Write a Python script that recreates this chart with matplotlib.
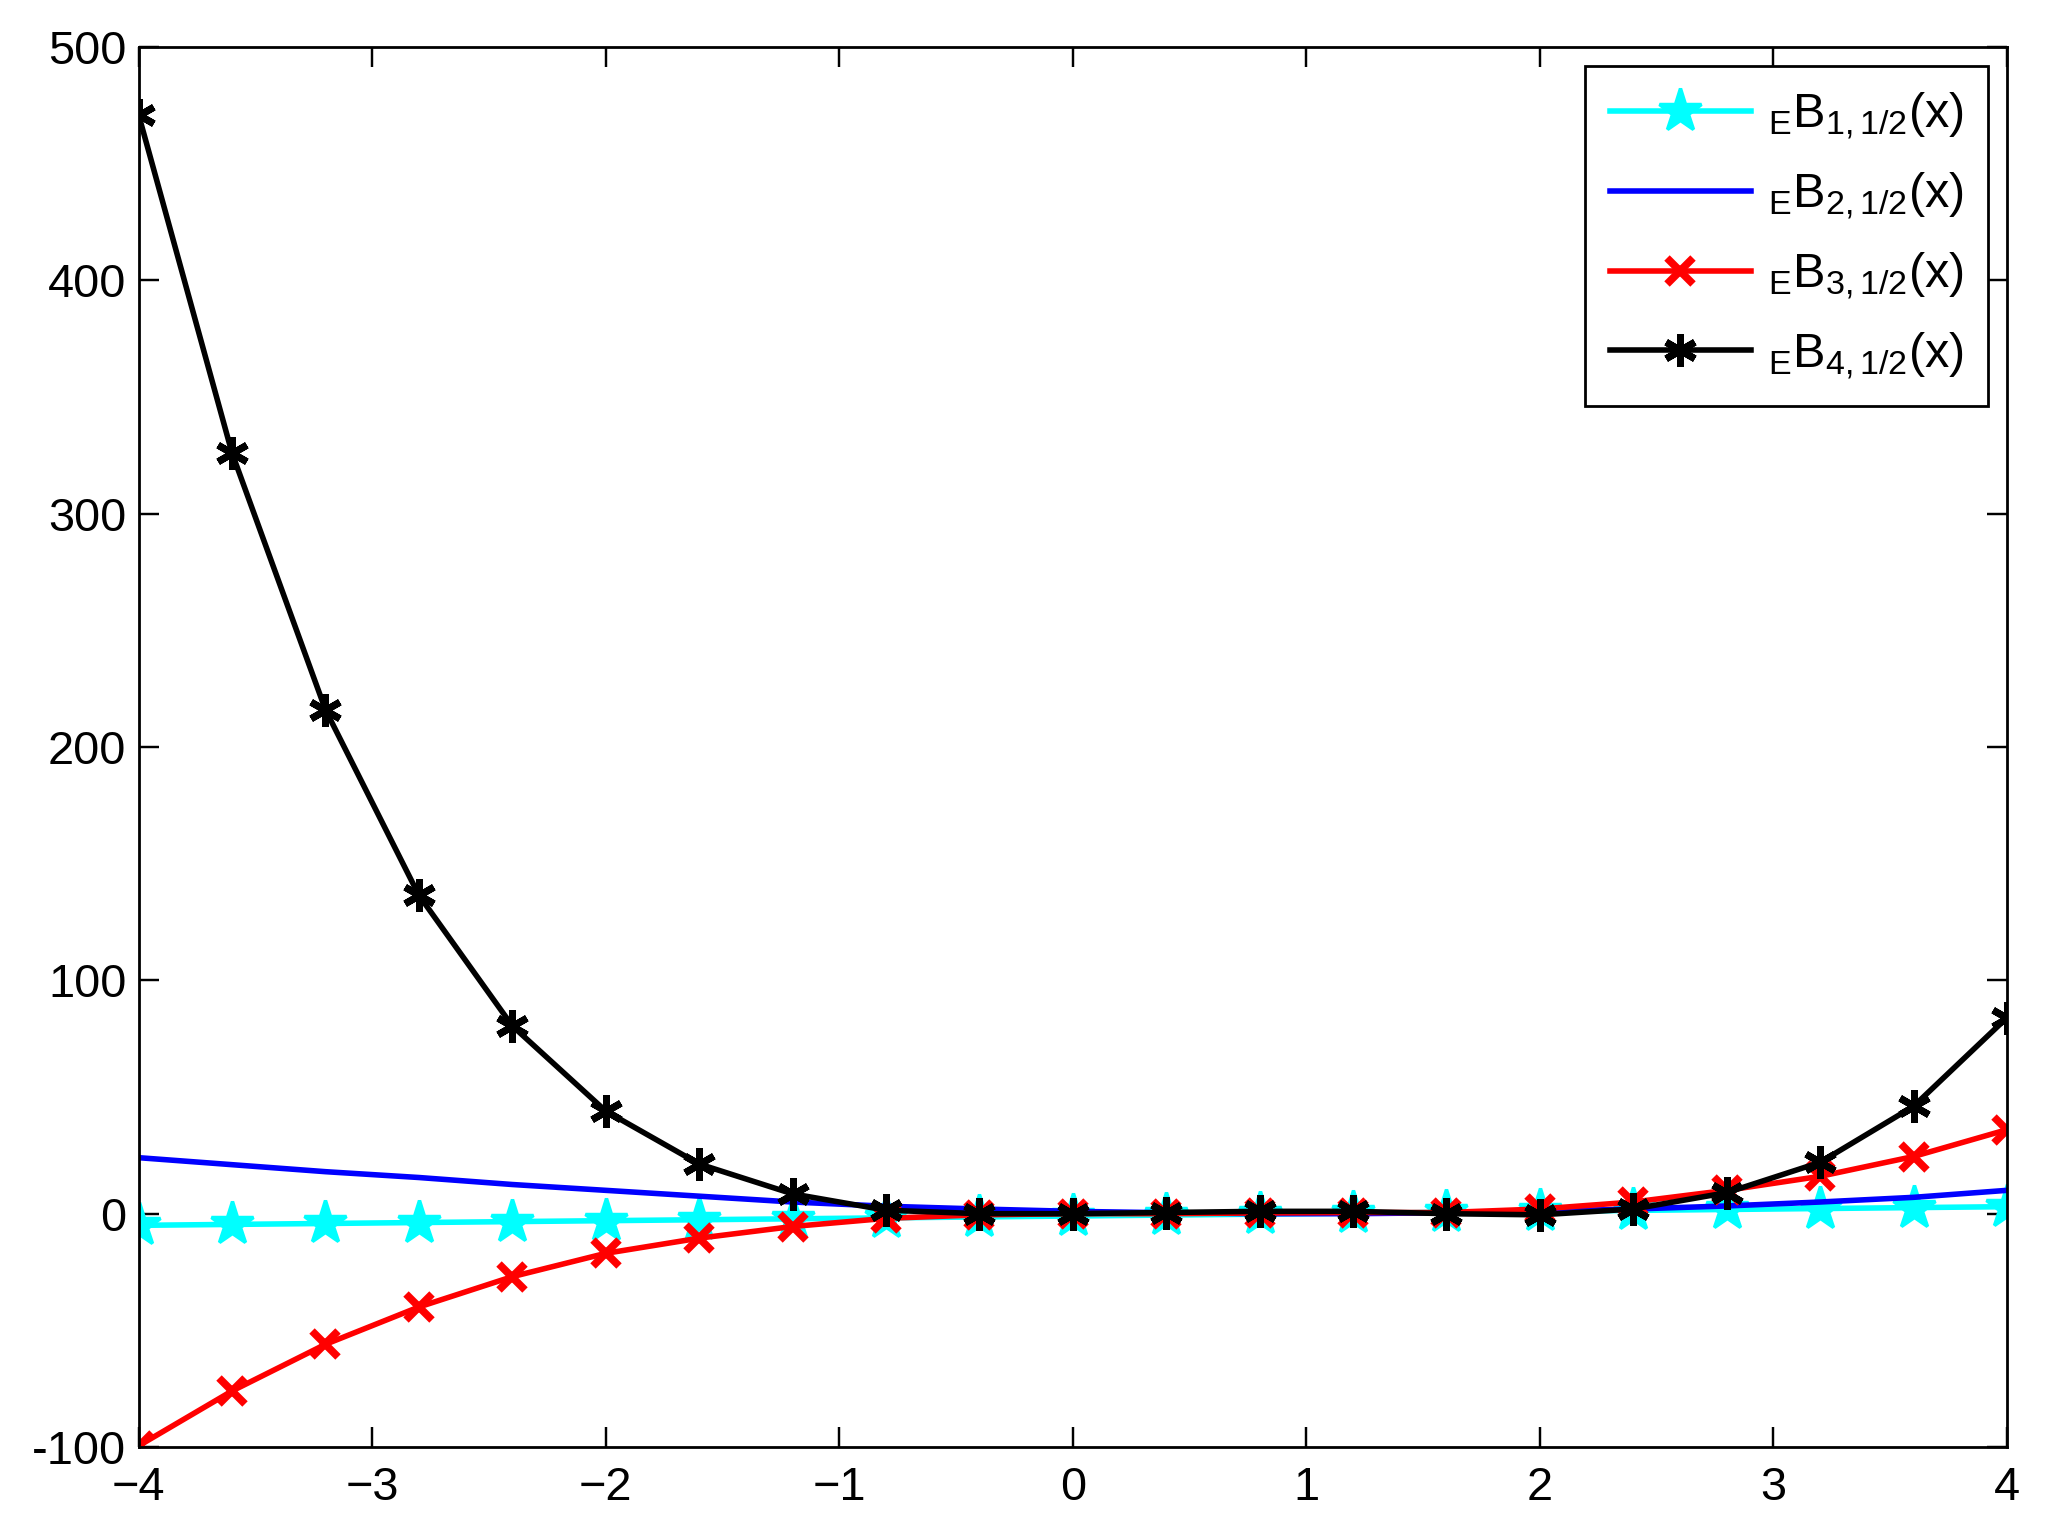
import matplotlib
matplotlib.use('Agg')
import matplotlib.pyplot as plt

plt.rcParams['font.family'] = ['Liberation Sans', 'DejaVu Sans']
plt.rcParams['mathtext.fontset'] = 'custom'
plt.rcParams['mathtext.rm'] = 'Liberation Sans'
plt.rcParams['mathtext.it'] = 'Liberation Sans'

# data
x = [-4, -3.6, -3.2, -2.8, -2.4, -2, -1.6, -1.2, -0.8, -0.4, 0,
     0.4, 0.8, 1.2, 1.6, 2, 2.4, 2.8, 3.2, 3.6, 4]
b1 = [-5, -4.6, -4.2, -3.8, -3.4, -3, -2.6, -2.2, -1.8, -1.4, -1,
      -0.6, -0.2, 0.2, 0.6, 1, 1.4, 1.8, 2.2, 2.6, 3]
b2 = [24, 21, 18, 15.5, 12.5, 10, 7.5, 5, 3.2, 2, 1,
      0.4, 0, 0, 0.4, 1, 2, 3.3, 5, 7, 10]
b3 = [-99.5, -76, -56, -40, -27, -17, -10.5, -5.5, -2, -0.5, 0,
      0, 0.3, 0.5, 0.5, 2, 5, 10, 16, 24.5, 36]
b4 = [471, 326, 216, 136.5, 80.5, 44, 21.3, 8.5, 1.5, 0, 0,
      0.5, 1, 1, 0, -0.5, 2, 9, 22, 46, 84]

xticks = [-4, -3, -2, -1, 0, 1, 2, 3, 4]
xticklabels = ['\u22124', '\u22123', '\u22122', '\u22121', '0', '1', '2', '3', '4']
yticks = [-100, 0, 100, 200, 300, 400, 500]
yticklabels = ['-100', '0', '100', '200', '300', '400', '500']

fig = plt.figure(figsize=[8.2, 6.136], dpi=250)
ax = fig.add_axes([0.0676, 0.0567, 0.9114, 0.9127])

lw = 1.6
ax.plot(x, b1, color='cyan', marker='*', markersize=13, linewidth=lw,
        label=r'$\mathregular{{}_{E}B_{1,1/2}(x)}$')
ax.plot(x, b2, color='blue', linewidth=lw,
        label=r'$\mathregular{{}_{E}B_{2,1/2}(x)}$')
ax.plot(x, b3, color='red', marker='x', markersize=7.5, markeredgewidth=2.2, linewidth=lw,
        label=r'$\mathregular{{}_{E}B_{3,1/2}(x)}$')
ax.plot(x, b4, color='black', marker=(6, 2, 0), markersize=9.5, markeredgewidth=2,
        linewidth=lw, label=r'$\mathregular{{}_{E}B_{4,1/2}(x)}$')

ax.set_xlim(-4, 4)
ax.set_ylim(-100, 500)
ax.set_xticks(xticks)
ax.set_xticklabels(xticklabels)
ax.set_yticks(yticks)
ax.set_yticklabels(yticklabels)
ax.tick_params(direction='in', top=True, right=True, length=5.8, width=0.7,
               labelsize=13.5)
ax.tick_params(axis='y', pad=3.5)
ax.tick_params(axis='x', pad=5.5)
for s in ax.spines.values():
    s.set_linewidth(0.8)

leg = ax.legend(loc='upper right', fontsize=14, handlelength=2.9, handletextpad=0.35,
                frameon=True, fancybox=False, edgecolor='black', framealpha=1,
                borderaxespad=0.4, borderpad=0.5, labelspacing=0.58)
leg.get_frame().set_linewidth(0.8)

plt.savefig('out.png', dpi=250)
